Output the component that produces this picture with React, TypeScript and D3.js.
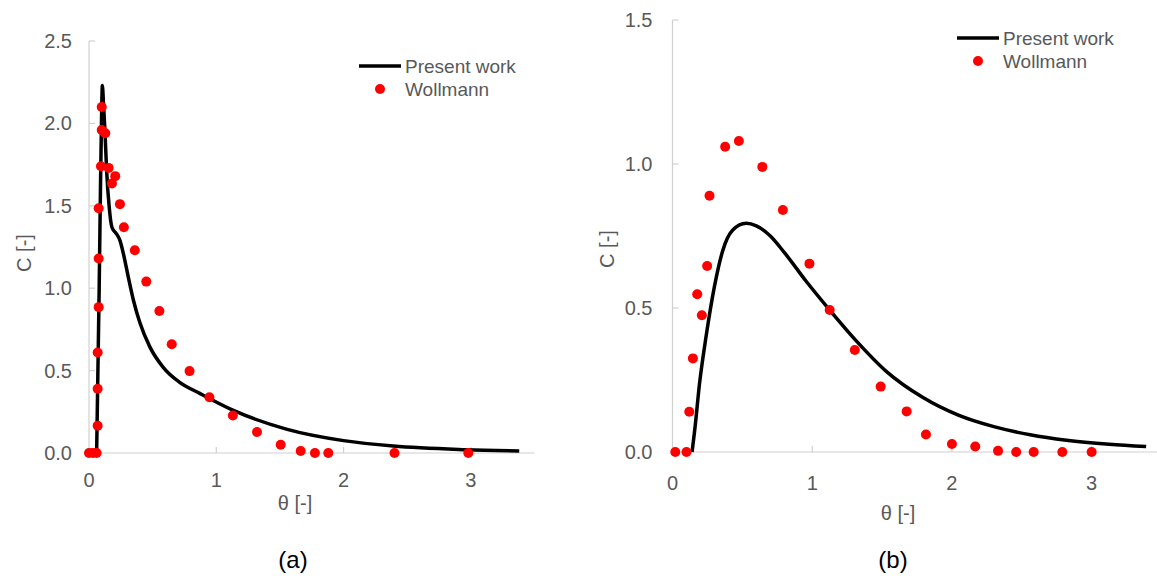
import React from 'react';
import * as d3 from 'd3';

// panel (a) — theta / C pairs
const presentA: [number, number][] = [
    [0.06, 0], [0.07, 0.5], [0.08, 1.0], [0.09, 1.6], [0.1, 2.1], [0.105, 2.23],
    [0.115, 2.1], [0.125, 1.96], [0.138, 1.72], [0.159, 1.49], [0.18, 1.37],
    [0.216, 1.33], [0.243, 1.29], [0.27, 1.21], [0.308, 1.07], [0.348, 0.93],
    [0.4, 0.79], [0.478, 0.644], [0.583, 0.52], [0.71, 0.43], [0.87, 0.362],
    [1.13, 0.26], [1.55, 0.145], [2.0, 0.075], [2.39, 0.042],
    [2.96, 0.02], [3.38, 0.012],
];
const wollmannA: [number, number][] = [
    [0, 0], [0.03, 0], [0.06, 0], [0.068, 0.165], [0.068, 0.39], [0.068, 0.61],
    [0.076, 0.885], [0.076, 1.18], [0.076, 1.485], [0.094, 1.74], [0.1, 1.96],
    [0.1, 2.1], [0.128, 1.94], [0.154, 1.73], [0.18, 1.635], [0.206, 1.68],
    [0.243, 1.51], [0.274, 1.37], [0.36, 1.23], [0.45, 1.04], [0.553, 0.862],
    [0.65, 0.66], [0.79, 0.497], [0.946, 0.338], [1.13, 0.228], [1.32, 0.127],
    [1.506, 0.05], [1.663, 0.012], [1.775, 0], [1.88, 0], [2.4, 0], [2.98, 0],
];
const yTicksA = [0, 0.5, 1.0, 1.5, 2.0, 2.5];

// panel (b)
const presentB: [number, number][] = [
    [0.14, 0], [0.16, 0.08], [0.194, 0.24], [0.24, 0.4], [0.3, 0.574], [0.36, 0.7],
    [0.43, 0.77], [0.528, 0.794], [0.6, 0.785], [0.7, 0.75], [0.8, 0.693],
    [0.958, 0.592], [1.125, 0.493], [1.317, 0.385], [1.53, 0.28], [1.79, 0.19],
    [2.046, 0.128], [2.3, 0.088], [2.56, 0.06], [2.82, 0.041], [3.125, 0.027],
    [3.39, 0.019],
];
const wollmannB: [number, number][] = [
    [0.02, 0], [0.1, 0], [0.12, 0.14], [0.146, 0.325], [0.177, 0.548], [0.21, 0.475],
    [0.248, 0.646], [0.265, 0.89], [0.377, 1.06], [0.475, 1.08], [0.643, 0.99],
    [0.79, 0.84], [0.98, 0.654], [1.125, 0.493], [1.305, 0.354], [1.49, 0.227],
    [1.676, 0.141], [1.814, 0.061], [2.0, 0.028], [2.167, 0.019], [2.33, 0.004],
    [2.46, 0], [2.585, 0], [2.79, 0], [3.0, 0],
];
const yTicksB = [0, 0.5, 1.0, 1.5];

const xTicks = [0, 1, 2, 3];
const seriesNames = ['Present work', 'Wollmann'];

const FONT = '"Liberation Sans", Arial, sans-serif';
const GREY = '#595959';
const AXIS = '#d0d0d0';

type PanelProps = {
    line: [number, number][];
    dots: [number, number][];
    yTicks: number[];
    x0: number; x1: number; y0: number; y1: number;
    yMax: number;
    yLabelGap: number; xLabelDy: number;
    yTitle: [number, number]; xTitle: [number, number];
    legend: [number, number];
    caption: string; captionX: number;
};

const Panel = (p: PanelProps) => {
    const x = d3.scaleLinear().domain([0, 3.5]).range([p.x0, p.x1]);
    const y = d3.scaleLinear().domain([0, p.yMax]).range([p.y0, p.y1]);
    const path = d3.line<[number, number]>()
        .x((d) => x(d[0]))
        .y((d) => y(d[1]))
        .curve(d3.curveMonotoneX)(p.line) || '';

    const [lx, ly] = p.legend;
    return (
        <g fontFamily={FONT}>
            {/* axes */}
            <line x1={x(0)} x2={x(0)} y1={y(0)} y2={y(p.yMax)} stroke={AXIS} strokeWidth={1.2} />
            <line x1={x(0)} x2={x(3.5)} y1={y(0)} y2={y(0)} stroke={AXIS} strokeWidth={1.2} />
            {p.yTicks.map((t) => (
                <g key={'y' + t}>
                    <line x1={x(0)} x2={x(0) + 6} y1={y(t)} y2={y(t)} stroke={AXIS} strokeWidth={1.2} />
                    <text x={x(0) - p.yLabelGap} y={y(t)} dy="0.35em" textAnchor="end"
                        fontSize={20} fill={GREY}>{d3.format('.1f')(t)}</text>
                </g>
            ))}
            {xTicks.map((t) => (
                <g key={'x' + t}>
                    {t > 0 && <line x1={x(t)} x2={x(t)} y1={y(0)} y2={y(0) - 6} stroke={AXIS} strokeWidth={1.2} />}
                    <text x={x(t)} y={y(0) + p.xLabelDy} textAnchor="middle"
                        fontSize={20} fill={GREY}>{t}</text>
                </g>
            ))}
            <text x={p.xTitle[0]} y={p.xTitle[1]} dy="0.35em" textAnchor="middle" fontSize={20} fill={GREY}>θ [-]</text>
            <text transform={`translate(${p.yTitle[0]},${p.yTitle[1]}) rotate(-90)`} dy="0.35em"
                textAnchor="middle" fontSize={20} fill={GREY}>C [-]</text>

            {/* series */}
            <path d={path} fill="none" stroke="#000" strokeWidth={3.5} strokeLinejoin="round" />
            {p.dots.map((d, i) => (
                <circle key={i} cx={x(d[0])} cy={y(d[1])} r={5} fill="#ff0000" />
            ))}

            {/* legend */}
            <line x1={lx} x2={lx + 42} y1={ly} y2={ly} stroke="#000" strokeWidth={3.5} />
            <text x={lx + 46} y={ly} dy="0.35em" fontSize={19} fill={GREY}>{seriesNames[0]}</text>
            <circle cx={lx + 21} cy={ly + 23} r={5} fill="#ff0000" />
            <text x={lx + 46} y={ly + 23} dy="0.35em" fontSize={19} fill={GREY}>{seriesNames[1]}</text>

            <text x={p.captionX} y={560} dy="0.35em" textAnchor="middle" fontSize={24} fill="#000">{p.caption}</text>
        </g>
    );
};

export default function App() {
    return (
        <div style={{ position: 'absolute', left: 0, top: 0 }}>
            <svg width={1157} height={584} style={{ display: 'block', background: '#fff' }}>
                <Panel line={presentA} dots={wollmannA} yTicks={yTicksA}
                    x0={89} x1={534.5} y0={453} y1={41} yMax={2.5}
                    yLabelGap={17} xLabelDy={34}
                    yTitle={[24, 253]} xTitle={[295, 503]}
                    legend={[359, 66]} caption="(a)" captionX={293} />
                <Panel line={presentB} dots={wollmannB} yTicks={yTicksB}
                    x0={672.5} x1={1161.5} y0={452} y1={20} yMax={1.5}
                    yLabelGap={20} xLabelDy={38}
                    yTitle={[607, 249]} xTitle={[898, 513]}
                    legend={[957, 38]} caption="(b)" captionX={893} />
            </svg>
        </div>
    );
}
